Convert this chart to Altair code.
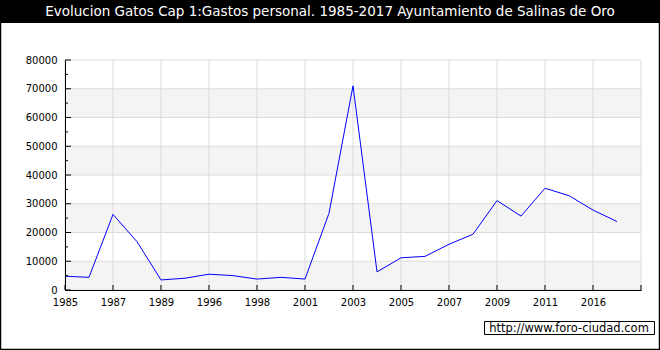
import altair as alt
import pandas as pd

title_text = "Evolucion Gatos Cap 1:Gastos personal. 1985-2017 Ayuntamiento de Salinas de Oro"
watermark = "http://www.foro-ciudad.com"

years = [1985, 1986, 1987, 1988, 1989, 1995, 1996, 1997, 1998, 2000, 2001, 2002,
         2003, 2004, 2005, 2006, 2007, 2008, 2009, 2010, 2011, 2015, 2016, 2017]
values = [4800, 4400, 26300, 16800, 3500, 4100, 5500, 5000, 3800, 4400, 3800, 26700,
          71000, 6300, 11200, 11700, 15900, 19400, 31100, 25700, 35400, 32800, 27800, 23800]

y_major = [0, 10000, 20000, 30000, 40000, 50000, 60000, 70000, 80000]
y_minor = [5000, 15000, 25000, 35000, 45000, 55000, 65000, 75000]
band_starts = [0, 20000, 40000, 60000]
band_ends = [10000, 30000, 50000, 70000]

W, H = 576, 230
PL, PT, PR, PB = 65, 60, 19, 60
FONT = "DejaVu Sans"

idx = list(range(len(years)))
df = pd.DataFrame({"i": idx, "year": years, "v": values})
x_ticks = list(range(0, len(years) + 1, 2))
label_arr = "[" + ",".join(f"'{y}'" for y in years) + "]"
label_expr = f"{label_arr}[datum.value] || ''"

xscale = alt.Scale(domain=[0, len(years)], nice=False, zero=False)
yscale = alt.Scale(domain=[0, 80000], nice=False)
xaxis = alt.Axis(values=x_ticks, labelExpr=label_expr, grid=False, ticks=False, title=None,
                 domainColor="black", labelFont=FONT, labelFontSize=10, labelColor="black",
                 labelPadding=7, labelFlush=False, labelOverlap=False, zindex=1)
yaxis = alt.Axis(values=y_major, grid=False, ticks=False, title=None, format="d",
                 domainColor="black", labelFont=FONT, labelFontSize=10, labelColor="black",
                 labelPadding=8, labelFlush=False, labelOverlap=False, zindex=1)
one = pd.DataFrame({"k": [0]})

bands = alt.Chart(pd.DataFrame({"y0": band_starts, "y1": band_ends})).mark_rect(
    color="#f4f4f4").encode(
    y=alt.Y("y0:Q", scale=yscale, axis=yaxis), y2="y1:Q",
    x=alt.value(0), x2=alt.value(W))

hgrid = alt.Chart(pd.DataFrame({"v": y_major})).mark_rule(color="#dcdcdc", strokeWidth=1).encode(
    y=alt.Y("v:Q", scale=yscale, axis=yaxis), x=alt.value(0), x2=alt.value(W))

vgrid = alt.Chart(pd.DataFrame({"i": x_ticks})).mark_rule(color="#dcdcdc", strokeWidth=1).encode(
    x=alt.X("i:Q", scale=xscale, axis=xaxis), y=alt.value(0), y2=alt.value(H))

line = alt.Chart(df).mark_line(color="#0000ff", strokeWidth=1).encode(
    x=alt.X("i:Q", scale=xscale, axis=xaxis),
    y=alt.Y("v:Q", scale=yscale, axis=yaxis))

ymaj = alt.Chart(pd.DataFrame({"v": y_major})).mark_rule(color="black").encode(
    y=alt.Y("v:Q", scale=yscale, axis=yaxis), x=alt.value(0), x2=alt.value(6))
ymin = alt.Chart(pd.DataFrame({"v": y_minor})).mark_rule(color="black").encode(
    y=alt.Y("v:Q", scale=yscale, axis=yaxis), x=alt.value(0), x2=alt.value(3))
xtk = alt.Chart(pd.DataFrame({"i": x_ticks})).mark_rule(color="black").encode(
    x=alt.X("i:Q", scale=xscale, axis=xaxis), y=alt.value(H), y2=alt.value(H - 5))

titlebar = alt.Chart(one).mark_rect(color="black").encode(
    x=alt.value(-PL), x2=alt.value(W + PR), y=alt.value(-PT), y2=alt.value(-PT + 23))
title = alt.Chart(one).mark_text(color="white", font=FONT, fontSize=13.5,
                                 align="center", baseline="middle").encode(
    x=alt.value(330 - PL), y=alt.value(-PT + 12), text=alt.value(title_text))
border = alt.Chart(one).mark_rect(fillOpacity=0, stroke="black", strokeWidth=2.5).encode(
    x=alt.value(-PL), x2=alt.value(W + PR), y=alt.value(-PT), y2=alt.value(H + PB))

wbox = alt.Chart(one).mark_rect(fill="white", stroke="black", strokeWidth=1).encode(
    x=alt.value(484.5 - PL), x2=alt.value(654.5 - PL),
    y=alt.value(321.5 - PT), y2=alt.value(334.5 - PT))
wtext = alt.Chart(one).mark_text(color="black", font=FONT, fontSize=11.5,
                                 align="center", baseline="middle").encode(
    x=alt.value(569 - PL), y=alt.value(328.5 - PT), text=alt.value(watermark))

chart = alt.layer(bands, hgrid, vgrid, line, ymaj, ymin, xtk,
                  titlebar, title, border, wbox, wtext).properties(
    width=W, height=H,
    autosize=alt.AutoSizeParams(type="none"),
    padding={"left": PL, "top": PT, "right": PR, "bottom": PB},
    background="white",
).configure_view(stroke=None)

chart.save("out.html", embed_options={"renderer": "svg", "actions": False})
